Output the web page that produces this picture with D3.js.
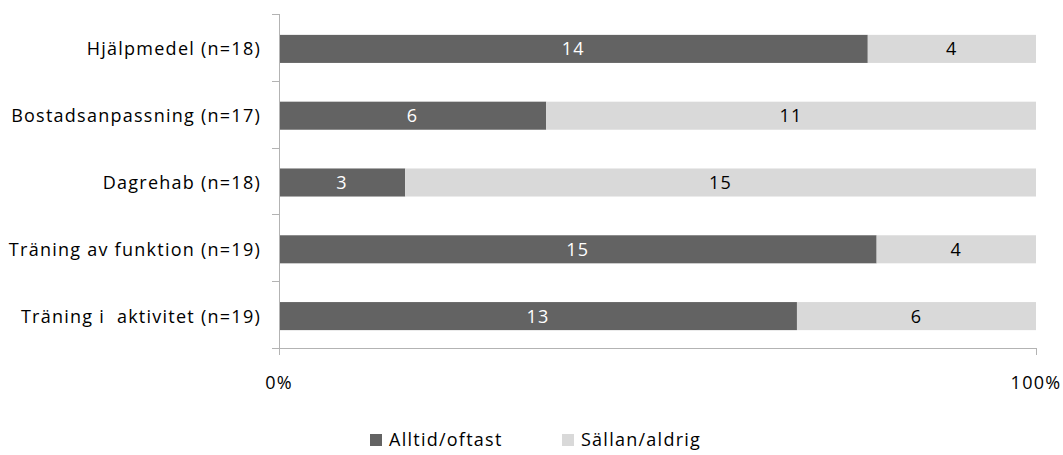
<!DOCTYPE html>
<html><head><meta charset="utf-8">
<script src="https://cdn.jsdelivr.net/npm/d3@7"></script>
<style>body{margin:0;background:#fff}svg{display:block}text{font-family:"Open Sans","Liberation Sans",sans-serif;white-space:pre;letter-spacing:1.25px}</style>
</head><body><svg id="c" width="1063" height="455"></svg>
<script>
const categories = ["Hjälpmedel (n=18)","Bostadsanpassning (n=17)","Dagrehab (n=18)","Träning av funktion (n=19)","Träning i  aktivitet (n=19)"];
const alltid = [14,6,3,15,13];
const sallan = [4,11,15,4,6];
const seriesNames = ["Alltid/oftast","Sällan/aldrig"];
const colors = ["#636363","#d9d9d9"];
const tickLabels = ["0%","100%"];

const svg = d3.select("#c");
const L=279,R=1036,T=14,B=348;
const FS=18;
const x = d3.scaleLinear().domain([0,1]).range([L,R]);
const y = d3.scaleBand().domain(categories).range([T+1.5,B+1.5]).paddingInner(0.58).paddingOuter(0.29);

const rows = categories.map((c,i)=>({c, v:[alltid[i], sallan[i]]}));
rows.forEach(r=>{
  const tot = r.v[0]+r.v[1];
  let acc=0;
  r.v.forEach((v,j)=>{
    const x0=x(acc/tot), x1=x((acc+v)/tot);
    svg.append("rect").attr("x",x0).attr("y",y(r.c)).attr("width",x1-x0).attr("height",y.bandwidth()).attr("fill",colors[j]);
    svg.append("text").attr("x",(x0+x1)/2).attr("y",y(r.c)+y.bandwidth()/2).attr("dy","0.36em")
      .attr("text-anchor","middle").attr("font-size",FS).attr("fill",j===0?"#fff":"#000").text(v);
    acc+=v;
  });
});

// left axis
svg.append("line").attr("x1",L+0.5).attr("x2",L+0.5).attr("y1",T).attr("y2",B+7).attr("stroke","#b3b3b3");
const step=(B-T)/categories.length;
for(let i=0;i<=categories.length;i++){
  const yy=Math.round(T+i*step)+0.5;
  svg.append("line").attr("x1",L-7).attr("x2",L).attr("y1",yy).attr("y2",yy).attr("stroke","#b3b3b3");
}
categories.forEach(c=>{
  svg.append("text").attr("x",261).attr("y",y(c)+y.bandwidth()/2).attr("dy","0.36em")
    .attr("text-anchor","end").attr("font-size",FS).attr("fill","#000").text(c);
});
// bottom axis
svg.append("line").attr("x1",L).attr("x2",R).attr("y1",B+0.5).attr("y2",B+0.5).attr("stroke","#b3b3b3");
[0,1].forEach((d,i)=>{
  svg.append("line").attr("x1",Math.round(x(d))+0.5).attr("x2",Math.round(x(d))+0.5).attr("y1",B).attr("y2",B+7).attr("stroke","#b3b3b3");
  svg.append("text").attr("x",x(d)).attr("y",383).attr("dy","0.36em").attr("text-anchor","middle").attr("font-size",FS).text(tickLabels[i]);
});
// legend
const lg=[{x:370,tx:389},{x:562,tx:581}];
seriesNames.forEach((s,i)=>{
  svg.append("rect").attr("x",lg[i].x).attr("y",434).attr("width",12).attr("height",12).attr("fill",colors[i]);
  svg.append("text").attr("x",lg[i].tx).attr("y",440).attr("dy","0.36em").attr("font-size",FS).text(s);
});
</script></body></html>
